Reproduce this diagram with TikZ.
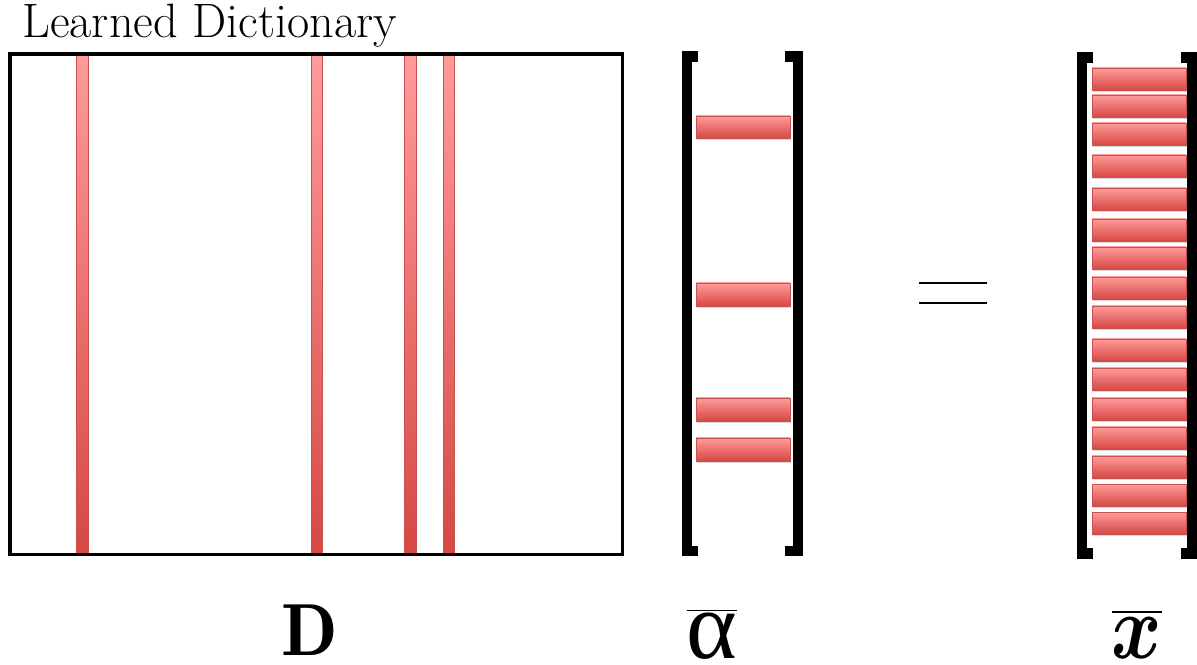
\documentclass[tikz,border=0pt]{standalone}
\usepackage{fontspec}
\usepackage{bm}
\usetikzlibrary{shadows}
\newfontfamily\greekfont{Liberation Serif}
\definecolor{barlight}{RGB}{255,155,155}
\definecolor{bardark}{RGB}{214,72,68}
\definecolor{barline}{RGB}{200,82,78}
\begin{document}
\begin{tikzpicture}[x=0.02cm, y=-0.02cm,
    colbar/.style={draw=barline, line width=0.5pt, top color=barlight, bottom color=bardark},
    rowbar/.style={colbar, drop shadow={shadow xshift=0.6pt, shadow yshift=-1.2pt, opacity=0.3}},
    brack/.style={line width=5.7pt, line join=miter}]
    \useasboundingbox (0,0) rectangle (1197,665);

    \node[anchor=base west, inner sep=0pt, font=\fontsize{27.5}{32}\selectfont] (title) at (22,38) {Learned Dictionary};

    \begin{scope}
        \coordinate (DNW) at (10,54);
        \coordinate (DSE) at (622.5,554.5);
        \fill[white, drop shadow={shadow xshift=0.8pt, shadow yshift=-1pt, opacity=0.3}] (DNW) rectangle (DSE);
        \draw[colbar] (76,54) rectangle (88,554);
        \draw[colbar] (311,54) rectangle (322,554);
        \draw[colbar] (404,54) rectangle (416,554);
        \draw[colbar] (443,54) rectangle (454,554);
        \draw[line width=2pt] (DNW) rectangle (DSE);
        \node[anchor=base, inner sep=0pt, font=\fontsize{42}{42}\selectfont] (lblD) at (310,655) {\(\mathbf{D}\)};
    \end{scope}

    \begin{scope}
        \draw[brack] (698,56.5) -- (687,56.5) -- (687,551) -- (698,551);
        \draw[brack] (785,56.5) -- (798,56.5) -- (798,551) -- (785,551);
        \draw[rowbar] (696,116) rectangle (790,138);
        \draw[rowbar] (696,283) rectangle (790,306);
        \draw[rowbar] (696,398) rectangle (790,421);
        \draw[rowbar] (696,438) rectangle (790,461);
        \node[anchor=base, inner sep=0pt, font=\fontsize{55}{55}\selectfont] (lblalpha) at (712,658) {\(\overline{\hbox{\greekfont α}}\)};
    \end{scope}

    \draw[line width=1.6pt] (919,283) -- (987,283);
    \draw[line width=1.6pt] (919,303) -- (987,303);

    \begin{scope}
        \draw[brack] (1093,57.5) -- (1082,57.5) -- (1082,553.5) -- (1093,553.5);
        \draw[brack] (1181,57.5) -- (1192,57.5) -- (1192,553.5) -- (1181,553.5);
        \foreach \y in {68,95,123,155,188,219,247,277,306,339,368,398,427,456,484,512}
            \draw[rowbar] (1092,\y) rectangle (1186,\y+22);
        \node[anchor=base, inner sep=0pt] (lblx) at (1137,658) {\scalebox{1.75}[2.1]{\fontsize{55}{55}\selectfont\(\overline{\bm{x}}\)}};
    \end{scope}
\end{tikzpicture}
\end{document}
